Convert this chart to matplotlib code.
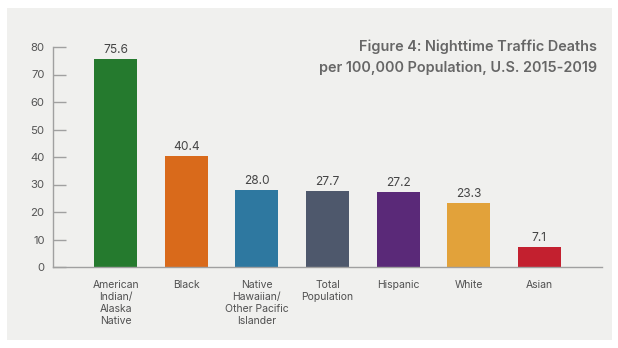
import numpy as np
import matplotlib.pyplot as plt
from matplotlib.patches import Rectangle

plt.rcParams['font.family'] = ['Inter', 'DejaVu Sans']

groups = ['American\nIndian/\nAlaska\nNative', 'Black',
          'Native\nHawaiian/\nOther Pacific\nIslander', 'Total\nPopulation',
          'Hispanic', 'White', 'Asian']
deaths = [75.6, 40.4, 28.0, 27.7, 27.2, 23.3, 7.1]
colors = ['#257a2e', '#d96a1b', '#2e78a0', '#4e586c', '#5a2978', '#e2a23a', '#c3202f']
yt = np.arange(0, 90, 10)

fig = plt.figure(figsize=(6.18, 3.48), dpi=100)
fig.patch.set_facecolor('white')
fig.patches.append(Rectangle((7/618, 8/348), 605/618, 332/348,
                             transform=fig.transFigure, facecolor='#f0f0ee',
                             edgecolor='none', zorder=-5))

ax = fig.add_axes([53/618, 1-267/348, 549/618, 220/348])
ax.set_facecolor('none')
x = np.arange(len(deaths))
ax.bar(x, deaths, width=0.61, color=colors, zorder=2)
for xi, v in zip(x, deaths):
  ax.text(xi, v + 1.2, f'{v:.1f}', ha='center', va='bottom',
          fontsize=8.6, color='#454545')

ax.set_xlim(-0.89, 6.89)
ax.set_ylim(0, 80)
ax.set_yticks(yt)
ax.set_xticks(x)
ax.set_xticklabels(groups, fontsize=7.5, color='#505050', linespacing=1.25)
ax.tick_params(axis='x', length=0, pad=9.5)
ax.tick_params(axis='y', direction='in', length=9.5, width=1, color='#a0a0a0',
               labelsize=8.2, labelcolor='#555555', pad=6)
for s in ['top', 'right']:
  ax.spines[s].set_visible(False)
for s in ['left', 'bottom']:
  ax.spines[s].set_color('#a0a0a0')
  ax.spines[s].set_linewidth(1)

fig.text(597/618, 1-57/348, 'Figure 4: Nighttime Traffic Deaths\nper 100,000 Population, U.S. 2015-2019',
         ha='right', va='center', fontsize=10.4, fontweight='semibold',
         color='#666666', linespacing=1.6)

plt.savefig('out.png', dpi=100)
